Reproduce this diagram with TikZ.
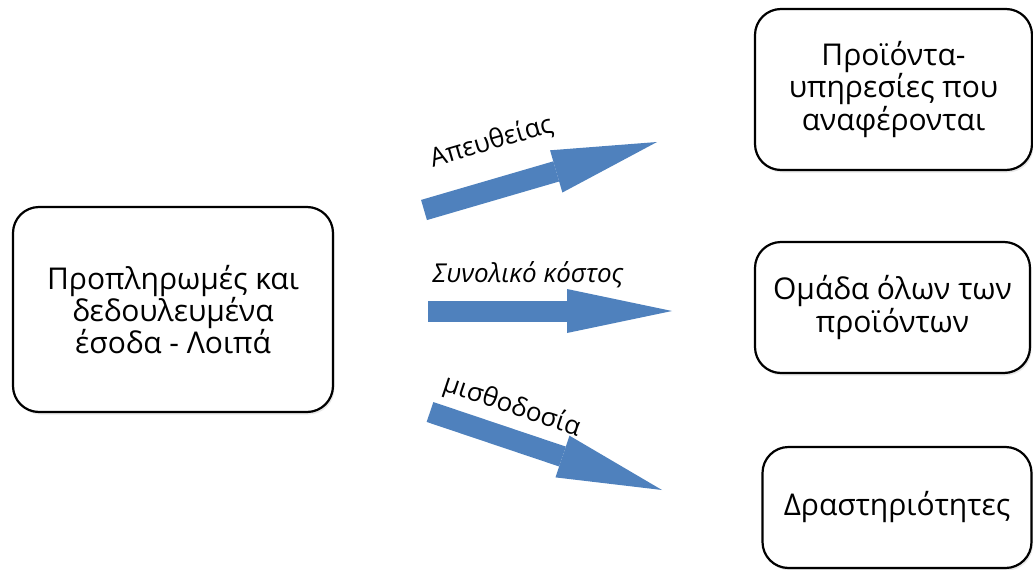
\documentclass[tikz,border=0pt]{standalone}
\usepackage{fontspec}
\setmainfont{Open Sans}
\usetikzlibrary{arrows.meta,shadows}
\definecolor{blockblue}{HTML}{4F81BD}
\tikzset{
  box/.style={draw, line width=2.2pt, rounded corners=26pt, align=center, fill=white,
    font=\fontsize{30}{30}\selectfont,
    drop shadow={opacity=0.18, shadow xshift=1.5pt, shadow yshift=-2.5pt}},
  blockarrow/.style={draw=blockblue, line width=21pt,
    -{Triangle[length=105pt, width=44pt, line width=0pt]}},
  lbl/.style={font=\fontsize{26}{28}\selectfont, inner sep=1pt}
}
\begin{document}
\begin{tikzpicture}[x=1pt, y=-1pt]
    \useasboundingbox (0,0) rectangle (1033,570);

    \node[box, minimum width=320pt, minimum height=205pt] (Prep) at (173,309.5) {Προπληρωμές και \\ δεδουλευμένα \\ έσοδα - Λοιπά};
    \node[box, minimum width=277pt, minimum height=161pt] (Prod) at (893.5,89.5) {Προϊόντα- \\ υπηρεσίες που \\ αναφέρονται};
    \node[box, minimum width=275pt, minimum height=131pt] (Group) at (892.5,307.5) {Ομάδα όλων των \\ προϊόντων};
    \node[box, minimum width=269pt, minimum height=121pt] (Act) at (897,507.5) {Δραστηριότητες};

    \coordinate (dirS) at (424,210);
    \coordinate (dirE) at (657,142);
    \coordinate (totS) at (428,311);
    \coordinate (totE) at (672,311);
    \coordinate (salS) at (430,412);
    \coordinate (salE) at (662,490);

    \draw[blockarrow] (dirS) -- (dirE) node[lbl, pos=0.345, sloped, above=22pt] {Απευθείας};
    \draw[blockarrow] (totS) -- (totE) node[lbl, pos=0.41, above=12pt] {\itshape Συνολικό κόστος};
    \draw[blockarrow] (salS) -- (salE) node[lbl, pos=0.31, sloped, above=6pt] {μισθοδοσία};
\end{tikzpicture}
\end{document}
